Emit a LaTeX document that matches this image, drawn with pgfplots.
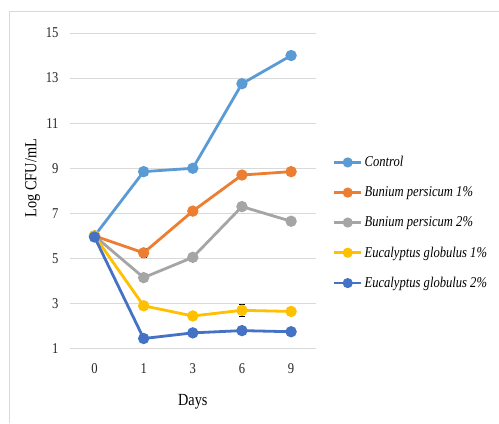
\documentclass[border=0pt]{standalone}
\usepackage{pgfplots}
\pgfplotsset{compat=1.18}
\usepackage{fontspec}
\setmainfont[FakeStretch=0.84]{Liberation Serif}
\definecolor{cCtrl}{HTML}{5B9BD5}
\definecolor{cB1}{HTML}{ED7D31}
\definecolor{cB2}{HTML}{A5A5A5}
\definecolor{cE1}{HTML}{FFC000}
\definecolor{cE2}{HTML}{4472C4}
\begin{document}
\begin{tikzpicture}[x=1pt,y=1pt]
\fill[white] (0,0) rectangle (499,423);
\draw[black!15, line width=1pt] (10,0) -- (10,411) -- (499,411);
\begin{axis}[
  scale only axis,
  anchor=south west,
  at={(70pt,74pt)},
  width=246pt, height=316pt,
  xmin=-0.5, xmax=4.5,
  ymin=1, ymax=15,
  xtick={0,1,2,3,4},
  xticklabels={0,1,3,6,9},
  ytick={1,3,5,7,9,11,13,15},
  ymajorgrids,
  grid style={black!15, line width=0.8pt},
  axis line style={draw=none},
  axis x line*=bottom,
  x axis line style={draw=black!15, line width=0.8pt},
  major tick length=0pt,
  tick style={draw=none},
  /pgf/number format/assume math mode=true,
  ticklabel style={font=\fontsize{15}{17}\selectfont, text=black!85},
  xticklabel style={yshift=-11pt},
  yticklabel style={xshift=-8pt},
  xlabel={Days},
  xlabel style={font=\fontsize{17}{19}\selectfont, yshift=-14pt},
  ylabel={Log CFU/mL},
  ylabel style={font=\fontsize{17}{19}\selectfont, at={(ticklabel cs:0.54)}, yshift=-1pt},
  clip=false,
  every axis plot/.append style={line width=2.8pt, mark=*, mark size=4.2pt,
     error bars/y dir=both, error bars/y explicit,
     error bars/error bar style={black, line width=0.7pt},
     error bars/error mark options={black, line width=0.7pt, mark size=3pt, rotate=90}},
  legend style={at={(1.065,0.622)}, anchor=north west, draw=none, fill=none,
     font=\fontsize{15}{17}\selectfont\itshape, row sep=14.5pt,
     cells={anchor=west}, inner xsep=1pt},
  legend cell align=left,
  legend image code/.code={
     \draw[#1, mark=none] (0pt,0pt) -- (27pt,0pt);
     \fill[#1] (13.5pt,0pt) circle (3.6pt);
  },
]
\addplot[color=cCtrl] coordinates {(0,6.0)+-(0,0.05) (1,8.85)+-(0,0.15) (2,9.0)+-(0,0.15) (3,12.75)+-(0,0.15) (4,14.0)+-(0,0.1)};
\addlegendentry{Control}
\addplot[color=cB1] coordinates {(0,6.0)+-(0,0.05) (1,5.25)+-(0,0.2) (2,7.1)+-(0,0.1) (3,8.7)+-(0,0.15) (4,8.85)+-(0,0.1)};
\addlegendentry{Bunium persicum 1\%}
\addplot[color=cB2] coordinates {(0,6.0)+-(0,0.05) (1,4.15)+-(0,0.1) (2,5.05)+-(0,0.1) (3,7.3)+-(0,0.1) (4,6.65)+-(0,0.1)};
\addlegendentry{Bunium persicum 2\%}
\addplot[color=cE1] coordinates {(0,6.0)+-(0,0.05) (1,2.9)+-(0,0.1) (2,2.45)+-(0,0.12) (3,2.7)+-(0,0.25) (4,2.65)+-(0,0.1)};
\addlegendentry{Eucalyptus globulus 1\%}
\addplot[color=cE2] coordinates {(0,5.95)+-(0,0.05) (1,1.45)+-(0,0.12) (2,1.7)+-(0,0.1) (3,1.8)+-(0,0.1) (4,1.75)+-(0,0.1)};
\addlegendentry{Eucalyptus globulus 2\%}
\end{axis}
\end{tikzpicture}
\end{document}
